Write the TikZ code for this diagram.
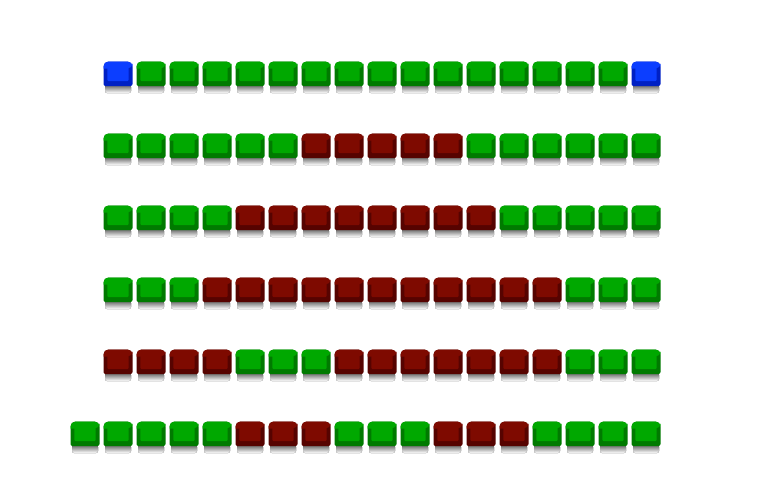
\documentclass[tikz,border=0pt]{standalone}
\definecolor{GF}{RGB}{0,168,0}
\definecolor{GS}{RGB}{0,122,0}
\definecolor{RF}{RGB}{126,10,0}
\definecolor{RS}{RGB}{86,3,0}
\definecolor{BF}{RGB}{12,62,255}
\definecolor{BS}{RGB}{0,32,196}
\tikzset{
  pics/key/.style={code={
    \fill[top color=black!60, bottom color=white, rounded corners=2pt] (1.5,23.5) rectangle (27.5,31.5);
    \fill[#1S] (0,12) [rounded corners=5pt] -- (0,0) -- (29,0) -- (29,12) [rounded corners=2pt] -- (29,24.5) -- (0,24.5) -- cycle;
    \fill[#1F, rounded corners=5pt] (0,7) -- (0,0) -- (29,0) -- (29,7) [sharp corners] -- cycle;
    \fill[#1F, rounded corners=1pt] (3.8,3) rectangle (25.2,19.5);
  }}
}
\begin{document}
\begin{tikzpicture}[x=1pt,y=-1pt]
\useasboundingbox (0,0) rectangle (765,482);
\foreach \c [count=\i from 0] in {B,G,G,G,G,G,G,G,G,G,G,G,G,G,G,G,B}
  \pic (k1-\i) at ({103.5+33*\i},61.5) {key=\c};
\foreach \c [count=\i from 0] in {G,G,G,G,G,G,R,R,R,R,R,G,G,G,G,G,G}
  \pic (k2-\i) at ({103.5+33*\i},133.5) {key=\c};
\foreach \c [count=\i from 0] in {G,G,G,G,R,R,R,R,R,R,R,R,G,G,G,G,G}
  \pic (k3-\i) at ({103.5+33*\i},205.5) {key=\c};
\foreach \c [count=\i from 0] in {G,G,G,R,R,R,R,R,R,R,R,R,R,R,G,G,G}
  \pic (k4-\i) at ({103.5+33*\i},277.5) {key=\c};
\foreach \c [count=\i from 0] in {R,R,R,R,G,G,G,R,R,R,R,R,R,R,G,G,G}
  \pic (k5-\i) at ({103.5+33*\i},349.5) {key=\c};
\foreach \c [count=\i from 0] in {G,G,G,G,G,R,R,R,G,G,G,R,R,R,G,G,G,G}
  \pic (k6-\i) at ({70.5+33*\i},421.5) {key=\c};
\end{tikzpicture}
\end{document}
